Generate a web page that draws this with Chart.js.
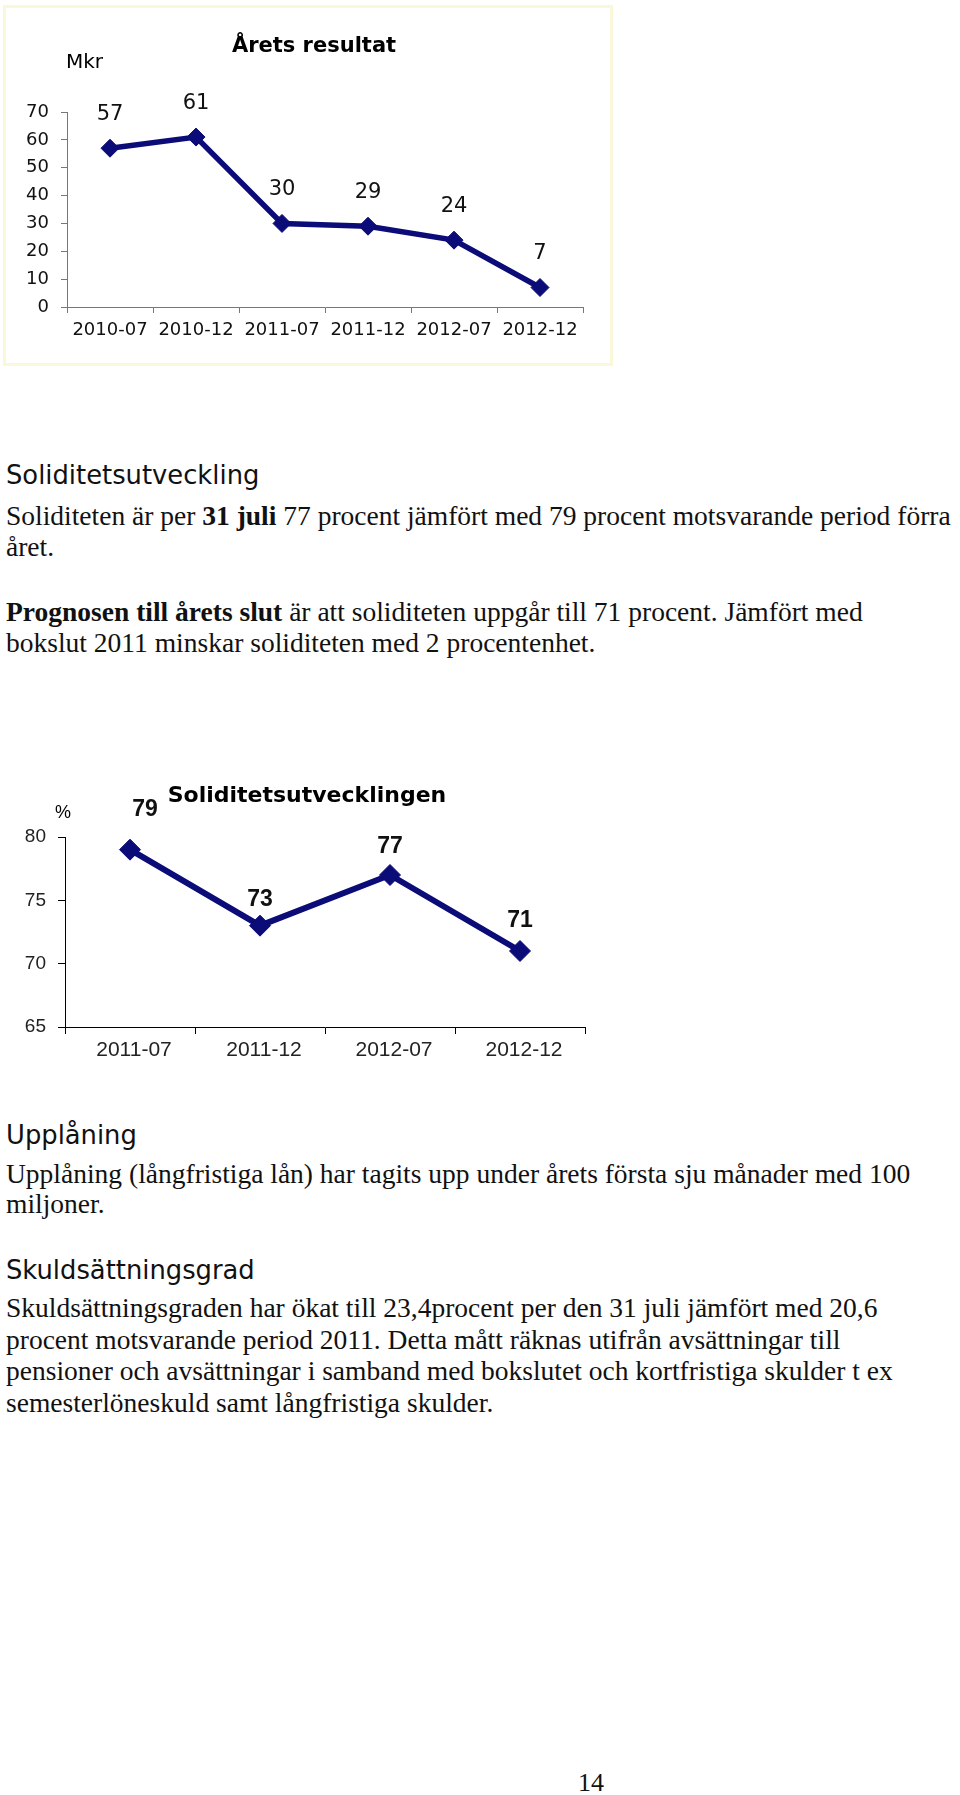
<!DOCTYPE html>
<html>
<head>
    <meta charset="utf-8">
    <title>Årets resultat och soliditet</title>
    <script src="https://cdn.jsdelivr.net/npm/chart.js"></script>
    <style>
        body { margin: 0; background: #fff; }
        .page { position: relative; width: 960px; height: 1795px; overflow: hidden; }
        .box { position: absolute; left: 3px; top: 5px; width: 610px; height: 361px; border: 3px solid #fbf8da; box-sizing: border-box; }
        canvas { position: absolute; }
        .h { position: absolute; left: 6px; font-family: 'DejaVu Sans', sans-serif; font-size: 25.8px; line-height: 25px; color: #111; white-space: nowrap; }
        .t { position: absolute; left: 6px; font-family: 'Liberation Serif', serif; font-size: 27.5px; line-height: 25px; color: #111; white-space: nowrap; }
    </style>
</head>
<body>
<div class="page">
    <div class="box"></div>
    <canvas id="resultChart" width="604" height="355" style="left:6px;top:8px"></canvas>

    <div class="h" style="top:463px">Soliditetsutveckling</div>
    <div class="t" style="top:503px">Soliditeten är per <b>31 juli</b> 77 procent jämfört med 79 procent motsvarande period förra</div>
    <div class="t" style="top:534px">året.</div>
    <div class="t" style="top:599px"><b>Prognosen till årets slut</b> är att soliditeten uppgår till 71 procent. Jämfört med</div>
    <div class="t" style="top:630px">bokslut 2011 minskar soliditeten med 2 procentenhet.</div>

    <canvas id="solidChart" width="600" height="300" style="left:0px;top:770px"></canvas>

    <div class="h" style="top:1123px">Upplåning</div>
    <div class="t" style="top:1161px">Upplåning (långfristiga lån) har tagits upp under årets första sju månader med 100</div>
    <div class="t" style="top:1191px">miljoner.</div>
    <div class="h" style="top:1258px">Skuldsättningsgrad</div>
    <div class="t" style="top:1295px">Skuldsättningsgraden har ökat till 23,4procent per den 31 juli jämfört med 20,6</div>
    <div class="t" style="top:1327px">procent motsvarande period 2011. Detta mått räknas utifrån avsättningar till</div>
    <div class="t" style="top:1358px">pensioner och avsättningar i samband med bokslutet och kortfristiga skulder t ex</div>
    <div class="t" style="top:1390px">semesterlöneskuld samt långfristiga skulder.</div>

    <div class="t" style="top:1770px;left:578px;font-size:26px">14</div>
</div>

<script>
    // Årets resultat (Mkr)
    const resultLabels = ['2010-07', '2010-12', '2011-07', '2011-12', '2012-07', '2012-12'];
    const resultValues = [57, 61, 30, 29, 24, 7];
    const resultYTicks = [0, 10, 20, 30, 40, 50, 60, 70];

    // Soliditetsutvecklingen (%)
    const solidLabels = ['2011-07', '2011-12', '2012-07', '2012-12'];
    const solidValues = [79, 73, 77, 71];
    const solidYTicks = [65, 70, 75, 80];

    const lineColor = '#0c0c78';

    // value labels above each point
    const pointLabels = {
        id: 'pointLabels',
        afterDatasetsDraw(chart, args, opts) {
            const ctx = chart.ctx;
            const meta = chart.getDatasetMeta(0);
            const data = chart.data.datasets[0].data;
            ctx.save();
            ctx.font = opts.font;
            ctx.fillStyle = opts.color;
            ctx.textAlign = 'center';
            ctx.textBaseline = 'middle';
            meta.data.forEach((pt, i) => {
                const dx = opts.dx ? opts.dx[i] : 0;
                const dy = opts.dy ? opts.dy[i] : opts.offset;
                ctx.fillText(String(data[i]), pt.x + dx, pt.y - dy);
            });
            ctx.restore();
        }
    };

    // chart title and unit text
    const chartTexts = {
        id: 'chartTexts',
        afterDraw(chart, args, opts) {
            const ctx = chart.ctx;
            ctx.save();
            ctx.fillStyle = '#000';
            ctx.textBaseline = 'alphabetic';
            opts.items.forEach(it => {
                ctx.font = it.font;
                ctx.textAlign = it.align;
                ctx.fillText(it.text, it.x, it.y);
            });
            ctx.restore();
        }
    };

    new Chart(document.getElementById('resultChart'), {
        type: 'line',
        data: {
            labels: resultLabels,
            datasets: [{
                data: resultValues,
                borderColor: lineColor,
                backgroundColor: lineColor,
                borderWidth: 5.5,
                pointStyle: 'rectRot',
                pointRadius: 9,
                pointBorderWidth: 1,
                tension: 0,
                fill: false
            }]
        },
        options: {
            responsive: false,
            animation: false,
            layout: { padding: { top: 104, right: 27, left: 0, bottom: 0 } },
            plugins: {
                legend: { display: false },
                tooltip: { enabled: false },
                pointLabels: { font: '21px "DejaVu Sans"', color: '#111', offset: 34 },
                chartTexts: {
                    items: [
                        { text: 'Årets resultat', x: 308, y: 44, font: 'bold 21px "DejaVu Sans"', align: 'center' },
                        { text: 'Mkr', x: 60, y: 60, font: '20px "DejaVu Sans"', align: 'left' }
                    ]
                }
            },
            scales: {
                x: {
                    offset: true,
                    grid: { offset: true, drawOnChartArea: false, tickLength: 6, color: '#777' },
                    border: { color: '#777' },
                    ticks: { font: { family: 'DejaVu Sans', size: 18 }, color: '#111', padding: 7, maxRotation: 0, autoSkip: false },
                    afterFit: s => { s.height = 56; }
                },
                y: {
                    min: 0,
                    max: 70,
                    afterBuildTicks: s => { s.ticks = resultYTicks.map(v => ({ value: v })); },
                    grid: { drawOnChartArea: false, tickLength: 6, color: '#777' },
                    border: { color: '#777' },
                    ticks: { font: { family: 'DejaVu Sans', size: 18 }, color: '#111', padding: 12 },
                    afterFit: s => { s.width = 61; }
                }
            }
        },
        plugins: [pointLabels, chartTexts]
    });

    new Chart(document.getElementById('solidChart'), {
        type: 'line',
        data: {
            labels: solidLabels,
            datasets: [{
                data: solidValues,
                borderColor: lineColor,
                backgroundColor: lineColor,
                borderWidth: 6,
                pointStyle: 'rectRot',
                pointRadius: 10.5,
                pointBorderWidth: 1,
                tension: 0,
                fill: false
            }]
        },
        options: {
            responsive: false,
            animation: false,
            layout: { padding: { top: 67, right: 15, left: 0, bottom: 0 } },
            plugins: {
                legend: { display: false },
                tooltip: { enabled: false },
                pointLabels: { font: 'bold 23px "Liberation Sans"', color: '#111', dx: [15, 0, 0, 0], dy: [40, 26, 28, 30] },
                chartTexts: {
                    items: [
                        { text: 'Soliditetsutvecklingen', x: 307, y: 32, font: 'bold 22px "DejaVu Sans"', align: 'center' },
                        { text: '%', x: 55, y: 48, font: '18px "Liberation Sans"', align: 'left' }
                    ]
                }
            },
            scales: {
                x: {
                    offset: true,
                    grid: { offset: true, drawOnChartArea: false, tickLength: 7, color: '#000' },
                    border: { color: '#000' },
                    ticks: { font: { family: 'Liberation Sans', size: 21 }, color: '#222', padding: 4, labelOffset: 4, maxRotation: 0, autoSkip: false },
                    afterFit: s => { s.height = 43; }
                },
                y: {
                    min: 65,
                    max: 80,
                    afterBuildTicks: s => { s.ticks = solidYTicks.map(v => ({ value: v })); },
                    grid: { drawOnChartArea: false, tickLength: 7, color: '#000' },
                    border: { color: '#000' },
                    ticks: { font: { family: 'Liberation Sans', size: 19 }, color: '#222', padding: 12 },
                    afterFit: s => { s.width = 65; }
                }
            }
        },
        plugins: [pointLabels, chartTexts]
    });
</script>
</body>
</html>
